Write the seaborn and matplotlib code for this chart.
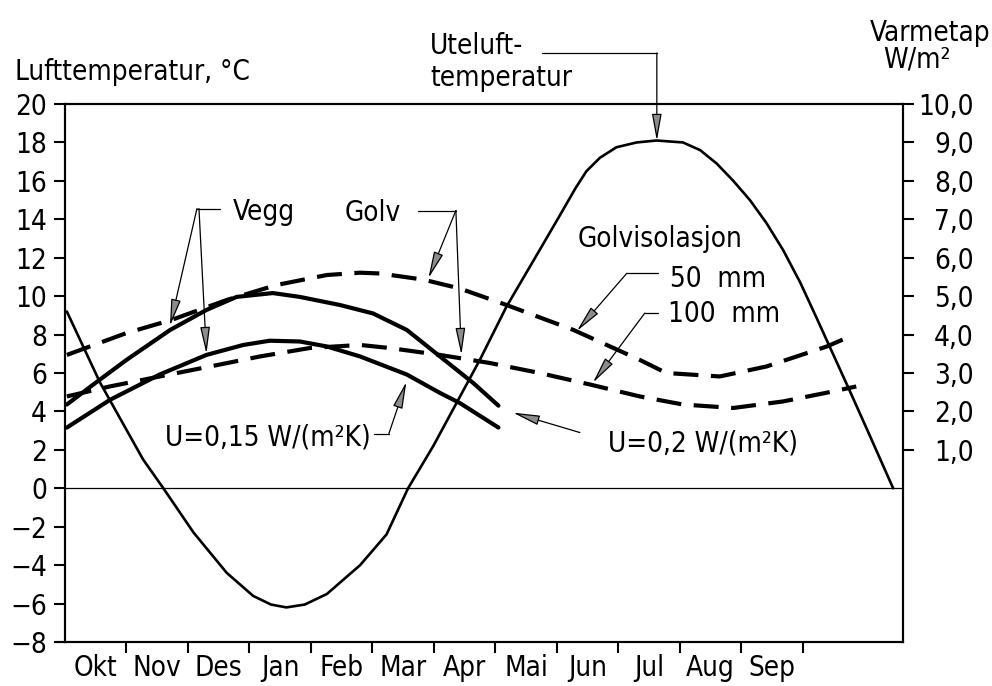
import matplotlib
matplotlib.use("Agg")
import matplotlib.pyplot as plt
from matplotlib import font_manager as fm
import seaborn as sns

# ---------------- data ----------------
months = ["Okt", "Nov", "Des", "Jan", "Feb", "Mar", "Apr", "Mai", "Jun", "Jul", "Aug", "Sep"]

# Outdoor air temperature (°C, left axis); x in months from start of October
ute_x = [0.03, 0.57, 0.92, 1.27, 1.60, 2.09, 2.63, 3.06, 3.35, 3.60, 3.90, 4.26, 4.80, 5.23,
         5.58, 5.99, 6.75, 7.18, 7.72, 8.03, 8.30, 8.48, 8.70, 8.97, 9.30, 9.62, 10.05, 10.33,
         10.60, 10.87, 11.14, 11.41, 11.68, 11.96, 12.22, 12.49, 12.76, 13.04, 13.47]
ute_y = [9.2, 5.5, 3.5, 1.5, 0.0, -2.3, -4.4, -5.6, -6.05, -6.2, -6.05, -5.5, -4.0, -2.4,
         0.0, 2.2, 6.7, 9.45, 12.4, 14.1, 15.6, 16.5, 17.2, 17.75, 18.0, 18.1, 18.0, 17.6,
         16.9, 16.0, 15.0, 13.8, 12.4, 10.7, 8.9, 7.0, 5.1, 3.1, 0.0]

# Heat loss (W/m², right axis)
vegg02_x = [0.03, 0.46, 1.0, 1.71, 2.30, 2.79, 3.38, 3.82, 4.47, 5.01, 5.56, 6.10, 6.64, 7.05]
vegg02_y = [2.18, 2.70, 3.34, 4.12, 4.64, 4.98, 5.08, 4.98, 4.77, 4.55, 4.12, 3.43, 2.74, 2.15]

vegg015_x = [0.03, 0.73, 1.54, 2.30, 2.90, 3.33, 3.82, 4.26, 4.80, 5.56, 6.10, 6.42, 7.05]
vegg015_y = [1.58, 2.30, 2.96, 3.47, 3.73, 3.84, 3.82, 3.69, 3.43, 2.96, 2.48, 2.22, 1.58]

golv50_x = [0.03, 1.0, 1.73, 2.63, 3.44, 4.26, 4.80, 5.12, 5.83, 6.42, 7.18, 8.27, 9.35,
            9.78, 10.65, 11.41, 12.39, 12.71]
golv50_y = [3.47, 4.04, 4.38, 4.90, 5.29, 5.55, 5.61, 5.59, 5.43, 5.20, 4.77, 4.12, 3.34,
            3.00, 2.91, 3.17, 3.69, 3.91]

golv100_x = [0.03, 0.73, 1.54, 2.36, 3.17, 3.98, 4.80, 5.28, 6.10, 6.91, 7.72, 8.54, 9.35,
             10.05, 10.87, 11.68, 12.49, 12.87]
golv100_y = [2.39, 2.65, 2.91, 3.17, 3.43, 3.65, 3.73, 3.65, 3.47, 3.26, 3.00, 2.70, 2.39,
             2.18, 2.09, 2.26, 2.52, 2.65]

left_ticks = list(range(-8, 21, 2))
right_ticks = list(range(1, 11))
right_labels = ["1,0", "2,0", "3,0", "4,0", "5,0", "6,0", "7,0", "8,0", "9,0", "10,0"]

# ---------------- style ----------------
sns.set_style("ticks")

avail = {(f.name, str(f.stretch)) for f in fm.fontManager.ttflist}
names = {n for n, _ in avail}
stretch = "normal"
if "Liberation Sans Narrow" in names:
    fam = ["Liberation Sans Narrow", "DejaVu Sans"]
    FS = 21
elif any(n == "DejaVu Sans" and s != "normal" for n, s in avail):
    fam = ["DejaVu Sans"]
    stretch = "condensed"
    FS = 20
elif "Roboto Condensed" in names:
    fam = ["Roboto Condensed", "DejaVu Sans"]
    FS = 20
else:
    fam = ["Roboto", "DejaVu Sans"]
    FS = 19

plt.rcParams["font.family"] = fam
plt.rcParams["font.stretch"] = stretch
for k in ("text.color", "axes.edgecolor", "xtick.color", "ytick.color", "axes.labelcolor"):
    plt.rcParams[k] = "black"
plt.rcParams["axes.linewidth"] = 1.5

fig = plt.figure(figsize=(9.92, 6.86), dpi=100)
ax = fig.add_axes([65 / 992, 1 - 642 / 686, (903 - 65) / 992, (642 - 104) / 686])
ax2 = ax.twinx()

XMAX = 13.63
ax.set_xlim(0, XMAX)
ax.set_ylim(-8, 20)
ax2.set_ylim(-4, 10)

# curves
sns.lineplot(x=ute_x, y=ute_y, ax=ax, color="black", lw=1.9)
sns.lineplot(x=vegg02_x, y=vegg02_y, ax=ax2, color="black", lw=3.0)
sns.lineplot(x=vegg015_x, y=vegg015_y, ax=ax2, color="black", lw=3.0)
sns.lineplot(x=golv50_x, y=golv50_y, ax=ax2, color="black", lw=3.0, linestyle=(0, (6, 3)))
sns.lineplot(x=golv100_x, y=golv100_y, ax=ax2, color="black", lw=3.0, linestyle=(0, (6, 3)))

ax.axhline(0, color="black", lw=0.9)

# axes / ticks
ax.set_yticks(left_ticks)
ax.set_yticklabels(["\u2212" + str(-v) if v < 0 else str(v) for v in left_ticks], fontsize=FS)
ax.tick_params(axis="y", direction="out", length=8, width=1.5, pad=5, left=True, right=False)
ax.set_xticks(range(1, 13))
ax.set_xticklabels([])
ax.set_xticks([i + 0.5 for i in range(12)], minor=True)
ax.set_xticklabels(months, minor=True, fontsize=FS)
ax.tick_params(axis="x", which="major", direction="out", length=8, width=1.5)
ax.tick_params(axis="x", which="minor", length=0, pad=9)

ax2.set_yticks(right_ticks)
ax2.set_yticklabels(right_labels, fontsize=FS)
ax2.tick_params(axis="y", direction="out", length=8, width=1.5, pad=43)
for lab in ax2.get_yticklabels():
    lab.set_horizontalalignment("right")

for a in (ax, ax2):
    for s in a.spines.values():
        s.set_linewidth(1.5)
        s.set_color("black")
    a.set_xlabel("")
    a.set_ylabel("")

# small extension of the baseline to the left
ax.plot([-0.17, 0], [-8, -8], color="black", lw=1.5, clip_on=False)

# ---------------- annotations (pixel helper -> data coords of left axis) ----------------
def P(px, py):
    return ((px - 65) / 61.5, 20 - (py - 103) / 19.3)

def seg(p0, p1):
    a, b = P(*p0), P(*p1)
    ax.plot([a[0], b[0]], [a[1], b[1]], color="black", lw=0.9, clip_on=False)

def arrow(p0, tip):
    ax.annotate("", xy=P(*tip), xytext=P(*p0), annotation_clip=False,
                arrowprops=dict(arrowstyle="-|>,head_length=1.1,head_width=0.2",
                                mutation_scale=15, shrinkA=0, shrinkB=0,
                                lw=0.9, color="black", fc="0.55"))

def label(px, py_base, s, **kw):
    x, y = P(px, py_base)
    ax.text(x, y, s, fontsize=FS, ha="left", va="baseline", clip_on=False, **kw)

fig.text(15 / 992, 1 - 80 / 686, "Lufttemperatur, °C", fontsize=FS, ha="left", va="baseline")
fig.text(990 / 992, 1 - 41 / 686, "Varmetap", fontsize=FS, ha="right", va="baseline")
fig.text(883 / 992, 1 - 68 / 686, "W/m²", fontsize=FS, ha="left", va="baseline")

label(430, 53, "Uteluft-")
label(430, 85, "temperatur")
seg((542, 51.7), (657, 51.7))
arrow((657, 51.7), (657, 140))

label(233, 220, "Vegg")
seg((220, 208), (197, 208))
arrow((197, 208), (170, 326))
arrow((199, 208), (206.5, 354))

label(345, 221, "Golv")
seg((418, 210), (456, 210))
arrow((456, 210), (428.5, 278))
arrow((456, 210), (461.5, 355))

label(578, 247, "Golvisolasjon")
label(670, 287, "50  mm")
label(668, 322, "100  mm")
seg((658, 273), (627, 273))
arrow((627, 273), (577, 331))
seg((658, 313), (645, 313))
arrow((645, 313), (593, 383))

label(608, 452, "U=0,2 W/(m²K)")
arrow((580, 433), (513, 413))

label(165, 446, "U=0,15 W/(m²K)")
seg((374, 434), (389, 434))
arrow((389, 434), (406.5, 382))

fig.savefig("out.png", dpi=100)
